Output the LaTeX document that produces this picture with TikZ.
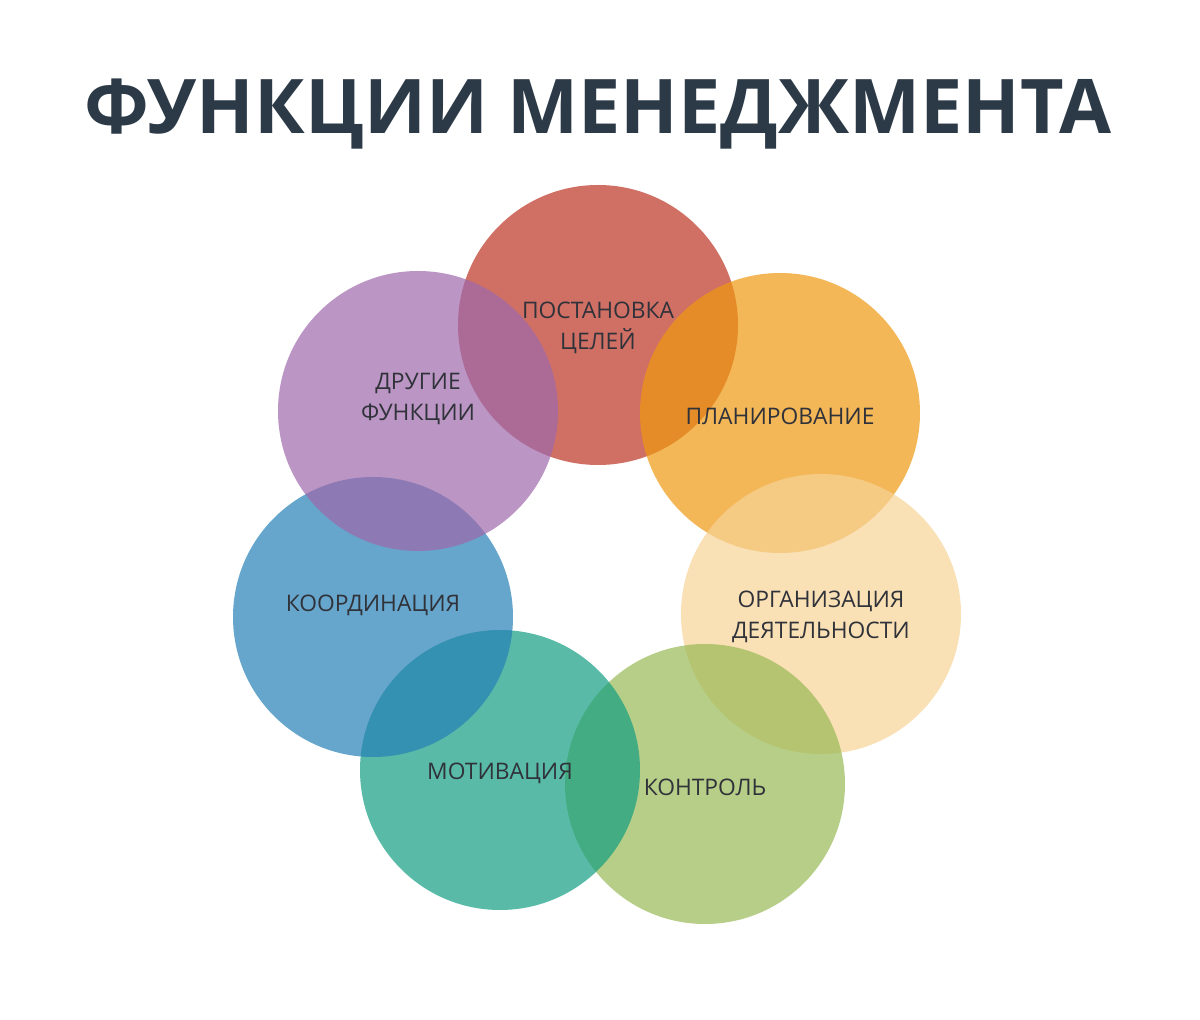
\documentclass[tikz,border=0pt]{standalone}
\usepackage{fontspec}
\setmainfont{Open Sans}
\usepackage{tikz}

\definecolor{headc}{RGB}{44,58,71}
\definecolor{textc}{RGB}{48,50,58}
\definecolor{goalsc}{RGB}{188,51,36}
\definecolor{planc}{RGB}{238,152,15}
\definecolor{orgc}{RGB}{246,211,149}
\definecolor{ctrlc}{RGB}{152,185,85}
\definecolor{motivc}{RGB}{18,158,129}
\definecolor{coordc}{RGB}{38,128,182}
\definecolor{otherc}{RGB}{158,104,171}

\tikzset{
  func/.style={circle, minimum size=140pt, inner sep=0pt, fill opacity=0.7},
  funclabel/.style={align=center, text=textc, yshift=-1.5pt, font=\fontsize{11.4}{15.5}\selectfont}
}

\begin{document}
\begin{tikzpicture}[x=0.5pt, y=-0.5pt]
  \useasboundingbox (0,0) rectangle (1200,1020);
  \node[text=headc, font=\bfseries\fontsize{37.7}{45}\selectfont] (head) at (598,114) {ФУНКЦИИ МЕНЕДЖМЕНТА};
  % circles, bottom one first
  \foreach \name/\x/\y in {goals/598/325, plan/780/413, org/821/614, ctrl/705/784, motiv/500/770, coord/373/617, other/418/411}
    \node[func, fill=\name c] (\name) at (\x,\y) {};
  % labels
  \node[funclabel] (goals-t) at (goals) {ПОСТАНОВКА\\ЦЕЛЕЙ};
  \node[funclabel] (plan-t) at (plan) {ПЛАНИРОВАНИЕ};
  \node[funclabel] (org-t) at (org) {ОРГАНИЗАЦИЯ\\ДЕЯТЕЛЬНОСТИ};
  \node[funclabel] (ctrl-t) at (ctrl) {КОНТРОЛЬ};
  \node[funclabel] (motiv-t) at (motiv) {МОТИВАЦИЯ};
  \node[funclabel, yshift=7.5pt] (coord-t) at (coord) {КООРДИНАЦИЯ};
  \node[funclabel, yshift=7.5pt] (other-t) at (other) {ДРУГИЕ\\ФУНКЦИИ};
\end{tikzpicture}
\end{document}
